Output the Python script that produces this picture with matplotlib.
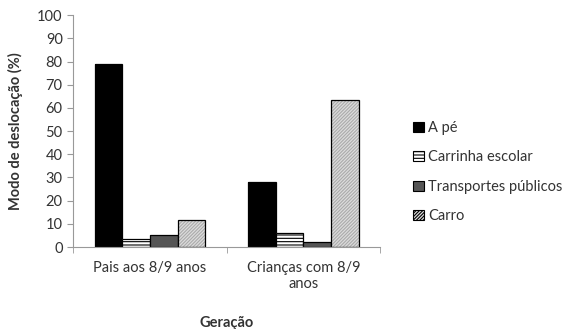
import numpy as np
import matplotlib.pyplot as plt
from matplotlib.patches import Patch

plt.rcParams['font.family'] = ['Lato', 'DejaVu Sans']
plt.rcParams['hatch.linewidth'] = 0.8

categories = ['Pais aos 8/9 anos', 'Crianças com 8/9\nanos']
series = ['A pé', 'Carrinha escolar', 'Transportes públicos', 'Carro']
a_pe = [79, 28]
carrinha = [3.5, 6]
transportes = [5, 2]
carro = [11.5, 63.5]
values = [a_pe, carrinha, transportes, carro]

faces = ['black', 'white', '#555555', '#dcdcdc']
hatches = [None, '-----', None, '//////////']
hatch_cols = ['black', 'black', '#555555', '#aaaaaa']

fig = plt.figure(figsize=(5.76, 3.29), dpi=100)
ax = fig.add_axes([0.127, 0.249, 0.533, 0.705])

x = np.arange(len(categories))
w = 0.18
handles = []
for i, vals in enumerate(values):
    pos = x + (i - 1.5) * w
    # fill + hatch first, then outline on top so edge stays black
    ax.bar(pos, vals, w, color=faces[i], hatch=hatches[i],
           edgecolor=hatch_cols[i], linewidth=0)
    ax.bar(pos, vals, w, fill=False, edgecolor='black', linewidth=0.9)
    handles.append(Patch(facecolor=faces[i], hatch=hatches[i],
                         edgecolor='black', linewidth=0.8, label=series[i]))

ax.set_xlim(-0.5, 1.5)
ax.set_ylim(0, 100)
ax.set_yticks(range(0, 101, 10))
ax.set_xticks(x)
ax.set_xticklabels(categories, fontsize=10.5, color='#333333')
ax.set_xticks([-0.5, 0.5, 1.5], minor=True)
ax.tick_params(axis='x', which='major', length=0, pad=10)
ax.tick_params(axis='x', which='minor', length=4, color='#999999')
ax.tick_params(axis='y', length=4, color='#999999', labelsize=10.5,
               labelcolor='#333333')

for s in ['top', 'right']:
    ax.spines[s].set_visible(False)
for s in ['left', 'bottom']:
    ax.spines[s].set_color('#999999')

ax.set_ylabel('Modo de deslocação (%)', fontsize=10.5, fontweight='bold',
              color='#333333', labelpad=10)
ax.set_xlabel('Geração', fontsize=10.5, fontweight='bold', color='#333333',
              labelpad=18)

fig.legend(handles=handles, loc='center left', bbox_to_anchor=(0.695, 0.477),
           frameon=False, fontsize=10.5, handlelength=0.7, handleheight=0.7,
           handletextpad=0.3, labelspacing=1.05, labelcolor='#333333')

fig.savefig('out.png', dpi=100)
